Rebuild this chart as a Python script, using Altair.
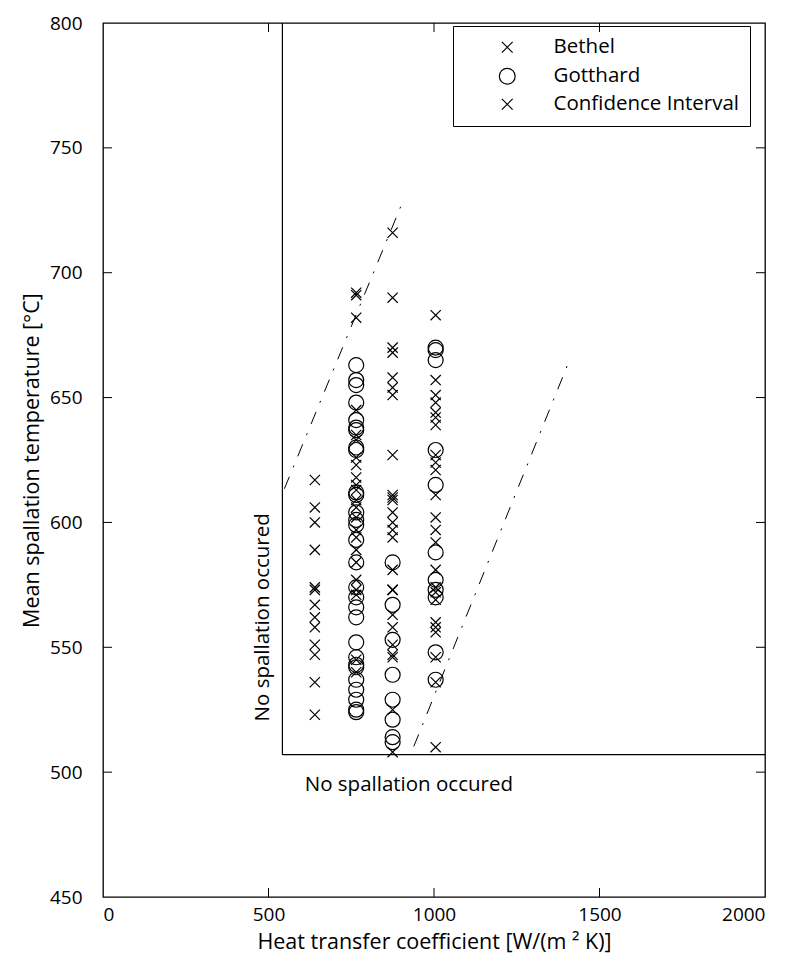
import altair as alt
import pandas as pd

# ---------------- data ----------------
h_levels = [640, 765, 875, 1005]

bethel_640 = [617, 606, 600, 589, 574, 573, 567, 562, 558, 551, 547, 536, 523]
bethel_765 = [692, 691, 682, 645, 635, 633, 626, 623, 618, 615, 613, 609, 606,
              602, 597, 594, 589, 584, 577, 573, 571, 545, 540]
bethel_875 = [716, 690, 670, 668, 658, 654, 651, 627, 611, 610, 609, 604, 600,
              597, 594, 581, 573, 573, 563, 558, 551, 547, 546, 525, 508]
bethel_1005 = [683, 657, 651, 648, 644, 642, 639, 627, 624, 621, 611, 602, 597,
               592, 581, 574, 572, 569, 560, 558, 556, 546, 536, 510]

gotthard_765 = [663, 657, 655, 648, 641, 638, 637, 630, 629, 612, 611, 604, 601,
                599, 593, 584, 574, 570, 566, 562, 552, 546, 543, 542, 537, 533,
                529, 525, 524]
gotthard_875 = [584, 567, 553, 539, 529, 521, 514, 512]
gotthard_1005 = [670, 669, 665, 629, 615, 588, 577, 573, 570, 548, 537]

# confidence interval lines (two dash-dot segments)
ci_line = ["upper", "upper", "lower", "lower"]
ci_h = [548, 906, 939, 1406]
ci_T = [613.5, 728.6, 510.3, 663.9]

# region of "no spallation"
bound_h = [542]
bound_T = [507]
h_max = [2000]
T_max = [800]

note_text = ["No spallation occured", "No spallation occured"]
note_h = [482, 924]
note_T = [562, 495]

x_ticks = [0, 500, 1000, 1500, 2000]
y_ticks = [450, 500, 550, 600, 650, 700, 750, 800]

series_names = ["Bethel", "Gotthard", "Confidence Interval"]

# ---------------- tables ----------------
rows = []
for h, vals in zip(h_levels, [bethel_640, bethel_765, bethel_875, bethel_1005]):
    for v in vals:
        rows.append({"h": h, "T": v, "series": "Bethel"})
for h, vals in zip(h_levels[1:], [gotthard_765, gotthard_875, gotthard_1005]):
    for v in vals:
        rows.append({"h": h, "T": v, "series": "Gotthard"})
pts = pd.DataFrame(rows)

ci = pd.DataFrame({"line": ci_line, "h": ci_h, "T": ci_T})
vbound = pd.DataFrame({"h": bound_h, "T": bound_T, "T2": T_max})
hbound = pd.DataFrame({"h": bound_h, "h2": h_max, "T": bound_T})
notes_v = pd.DataFrame({"h": note_h[:1], "T": note_T[:1], "t": note_text[:1]})
notes_h = pd.DataFrame({"h": note_h[1:], "T": note_T[1:], "t": note_text[1:]})
xt = pd.DataFrame({"h": x_ticks[1:-1]})
yt = pd.DataFrame({"T": y_ticks[1:-1]})

W, H = 662, 874
FONT = "Open Sans"
XPATH = "M-0.68,-0.68L0.68,0.68M-0.68,0.68L0.68,-0.68"

xscale = alt.Scale(domain=[0, 2000], nice=False, zero=False)
yscale = alt.Scale(domain=[450, 800], nice=False, zero=False)

xaxis = alt.Axis(values=x_ticks, title="Heat transfer coefficient [W/(m  ² K)]",
                 grid=False, ticks=False, domain=False, labelPadding=8,
                 titlePadding=7, format="d")
yaxis = alt.Axis(values=y_ticks, title="Mean spallation temperature [°C]",
                 grid=False, ticks=False, domain=False, labelPadding=21,
                 titlePadding=6, format="d")

points = alt.Chart(pts).mark_point(filled=False, color="black", size=225,
                                   strokeWidth=1.2, opacity=1).encode(
    x=alt.X("h:Q", scale=xscale, axis=xaxis),
    y=alt.Y("T:Q", scale=yscale, axis=yaxis),
    shape=alt.Shape("series:N",
                    scale=alt.Scale(domain=series_names, range=[XPATH, "circle", XPATH]),
                    legend=alt.Legend(title=None, orient="none", legendX=350, legendY=3,
                                      strokeColor="black", padding=11,
                                      symbolOffset=33, labelOffset=36,
                                      rowPadding=7, symbolSize=250,
                                      symbolStrokeColor="black",
                                      symbolFillColor="transparent",
                                      symbolStrokeWidth=1.2,
                                      labelLimit=400,
                                      labelFont=FONT, labelFontSize=20.5,
                                      labelColor="black")),
)

ci_lines = alt.Chart(ci).mark_line(color="black", strokeWidth=1,
                                   strokeDash=[13, 10, 2, 10]).encode(
    x=alt.X("h:Q", scale=xscale),
    y=alt.Y("T:Q", scale=yscale),
    detail="line:N",
)

vrule = alt.Chart(vbound).mark_rule(color="black", strokeWidth=1.2).encode(
    x=alt.X("h:Q", scale=xscale), y=alt.Y("T:Q", scale=yscale), y2="T2:Q")
hrule = alt.Chart(hbound).mark_rule(color="black", strokeWidth=1.2).encode(
    x=alt.X("h:Q", scale=xscale), x2="h2:Q", y=alt.Y("T:Q", scale=yscale))

txt_v = alt.Chart(notes_v).mark_text(angle=270, font=FONT, fontSize=20.5,
                                     color="black", align="center",
                                     baseline="middle").encode(
    x=alt.X("h:Q", scale=xscale), y=alt.Y("T:Q", scale=yscale), text="t:N")
txt_h = alt.Chart(notes_h).mark_text(font=FONT, fontSize=20.5, color="black",
                                     align="center", baseline="middle").encode(
    x=alt.X("h:Q", scale=xscale), y=alt.Y("T:Q", scale=yscale), text="t:N")

TL = 9
xt_bottom = alt.Chart(xt).mark_rule(color="black").encode(
    x=alt.X("h:Q", scale=xscale), y=alt.value(H), y2=alt.value(H - TL))
xt_top = alt.Chart(xt).mark_rule(color="black").encode(
    x=alt.X("h:Q", scale=xscale), y=alt.value(0), y2=alt.value(TL))
yt_left = alt.Chart(yt).mark_rule(color="black").encode(
    y=alt.Y("T:Q", scale=yscale), x=alt.value(0), x2=alt.value(TL))
yt_right = alt.Chart(yt).mark_rule(color="black").encode(
    y=alt.Y("T:Q", scale=yscale), x=alt.value(W), x2=alt.value(W - TL))

chart = alt.layer(
    xt_bottom, xt_top, yt_left, yt_right,
    vrule, hrule, ci_lines, txt_v, txt_h, points,
).properties(
    width=W, height=H,
    autosize=alt.AutoSizeParams(type="none"),
    padding={"left": 95, "top": 15, "right": 28, "bottom": 70},
    background="white",
).configure_view(
    stroke="black", strokeWidth=1.3,
).configure_axis(
    labelFont=FONT, labelFontSize=19, labelColor="black",
    titleFont=FONT, titleFontSize=21.5, titleColor="black", titleFontWeight="normal",
)

chart.save("out.html", embed_options={"renderer": "svg", "actions": False})
